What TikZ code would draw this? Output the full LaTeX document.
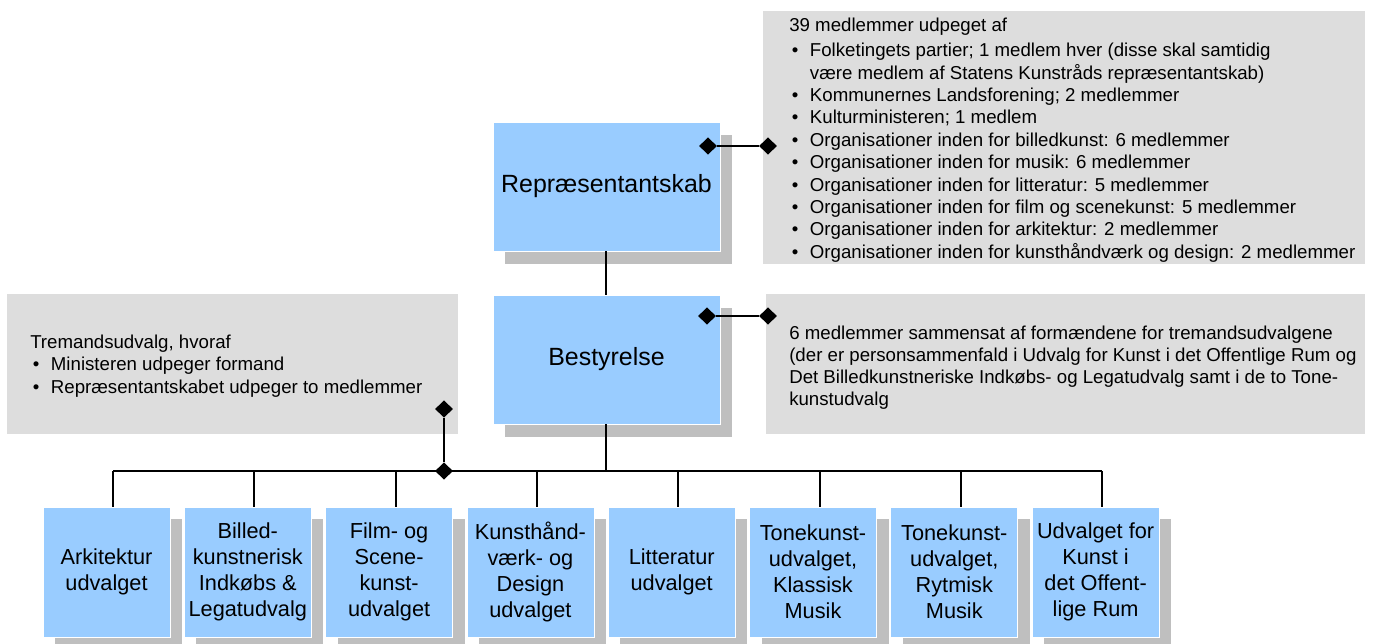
\documentclass[tikz,border=0pt]{standalone}
\usepackage{fontspec}
\setmainfont{Liberation Sans}
\usetikzlibrary{shapes.geometric,shadows}
\definecolor{boxblue}{HTML}{99CCFF}
\definecolor{shadowgray}{HTML}{BFBFBF}
\definecolor{notegray}{HTML}{DDDDDD}
\newcommand\bul{\makebox[15.5pt][l]{\hspace{2pt}•}}
\newcommand\ind{\hspace*{15.5pt}}
\begin{document}
\begin{tikzpicture}[x=0.75pt,y=-0.75pt,
  orgbox/.style={fill=boxblue, draw=white, line width=0.6pt, inner sep=0pt, align=center},
  topbox/.style={orgbox, minimum width=170.25pt, minimum height=96.75pt,
    font=\fontsize{18.7}{22}\selectfont,
    general shadow={fill=shadowgray, shadow xshift=9pt, shadow yshift=-9.5pt}},
  subbox/.style={orgbox, minimum width=95.25pt, minimum height=97.5pt,
    font=\fontsize{16.3}{19.5}\selectfont,
    general shadow={fill=shadowgray, shadow xshift=9pt, shadow yshift=-9pt}},
  note/.style={fill=notegray, inner sep=0pt},
  notetext/.style={anchor=base west, inner sep=0pt},
  link/.style={line width=1.5pt},
  dia/.style={diamond, fill=black, inner sep=0pt, minimum width=13.5pt, minimum height=13pt}]
\useasboundingbox (0,0) rectangle (1374,643);

% grey note boxes
\node[note, minimum width=451.5pt, minimum height=189.75pt] (note1) at (1064,137.5) {};
\node[note, minimum width=449.25pt, minimum height=105pt] (note2) at (1065.5,364) {};
\node[note, minimum width=338.25pt, minimum height=105pt] (note3) at (232.5,364) {};

\node[notetext] (note1t) at (789,31.5) {\fontsize{14}{16.8}\selectfont
\begin{tabular}[t]{@{}l@{}}
39 medlemmer udpeget af\\[2.1pt]
\bul Folketingets partier; 1 medlem hver (disse skal samtidig\\
\ind være medlem af Statens Kunstråds repræsentantskab)\\
\bul Kommunernes Landsforening; 2 medlemmer\\
\bul Kulturministeren; 1 medlem\\
\bul Organisationer inden for billedkunst: 6 medlemmer\\
\bul Organisationer inden for musik: 6 medlemmer\\
\bul Organisationer inden for litteratur: 5 medlemmer\\
\bul Organisationer inden for film og scenekunst: 5 medlemmer\\
\bul Organisationer inden for arkitektur: 2 medlemmer\\
\bul Organisationer inden for kunsthåndværk og design: 2 medlemmer
\end{tabular}};

\node[notetext] (note2t) at (789,339) {\fontsize{14}{16.7}\selectfont
\begin{tabular}[t]{@{}l@{}}
6 medlemmer sammensat af formændene for tremandsudvalgene\\
(der er personsammenfald i Udvalg for Kunst i det Offentlige Rum og\\
Det Billedkunstneriske Indkøbs- og Legatudvalg samt i de to Tone-\\
kunstudvalg
\end{tabular}};

\node[notetext] (note3t) at (30,348) {\fontsize{14}{16.9}\selectfont
\begin{tabular}[t]{@{}l@{}}
Tremandsudvalg, hvoraf\\
\bul Ministeren udpeger formand\\
\bul Repræsentantskabet udpeger to medlemmer
\end{tabular}};

% main boxes
\node[topbox] (rep) at (606.5,186.5) {Repræsentantskab};
\node[topbox] (best) at (606.5,359.5) {Bestyrelse};

% committee boxes
\node[subbox] (b1) at (106.5,572) {Arkitektur\\udvalget};
\node[subbox] (b2) at (247.8,572) {Billed-\\kunstnerisk\\Indkøbs \&\\Legatudvalg};
\node[subbox] (b3) at (389.1,572) {Film- og\\Scene-\\kunst-\\udvalget};
\node[subbox] (b4) at (530.4,572) {Kunsthånd-\\værk- og\\Design\\udvalget};
\node[subbox] (b5) at (671.7,572) {Litteratur\\udvalget};
\node[subbox] (b6) at (813,572) {Tonekunst-\\udvalget,\\Klassisk\\Musik};
\node[subbox] (b7) at (954.3,572) {Tonekunst-\\udvalget,\\Rytmisk\\Musik};
\node[subbox] (b8) at (1095.6,572) {Udvalget for\\Kunst i\\det Offent-\\lige Rum};

% bus coordinates
\coordinate (t1) at (113,471);
\coordinate (t2) at (254.3,471);
\coordinate (t3) at (395.6,471);
\coordinate (t4) at (536.9,471);
\coordinate (t5) at (678.2,471);
\coordinate (t6) at (819.5,471);
\coordinate (t7) at (960.8,471);
\coordinate (t8) at (1102.1,471);
\coordinate (tb) at (606,471);

% connectors
\draw[link] (rep.south -| tb) -- (best.north -| tb);
\draw[link] (best.south -| tb) -- (tb);
\draw[link] (t1) -- (t8);
\foreach \i in {1,...,8} {\draw[link] (t\i) -- (t\i |- b\i.north);}

% diamonds
\node[dia] (dR1) at (708,146) {};
\node[dia] (dR2) at (768,146) {};
\node[dia] (dB1) at (707,316) {};
\node[dia] (dB2) at (768,316) {};
\node[dia] (dL1) at (444,409) {};
\node[dia] (dL2) at (444,471) {};
\draw[link] (dR1) -- (dR2);
\draw[link] (dB1) -- (dB2);
\draw[link] (dL1) -- (dL2);
\end{tikzpicture}
\end{document}
